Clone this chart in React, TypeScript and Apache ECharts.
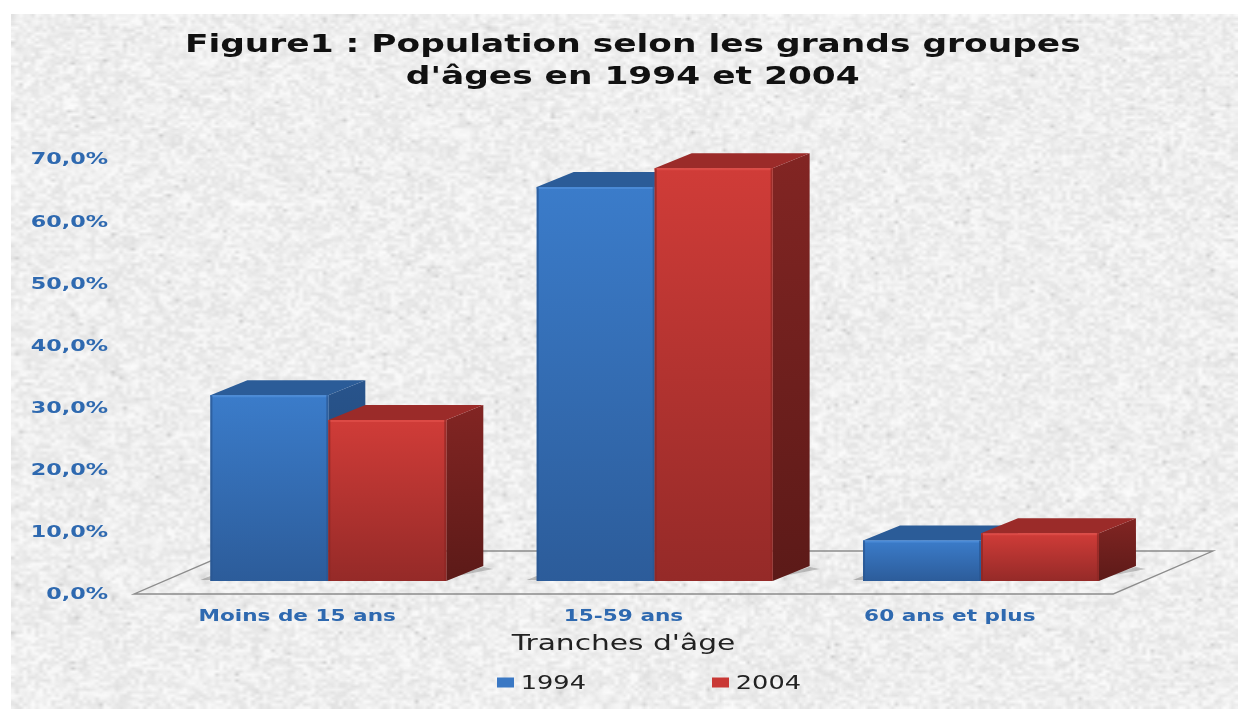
import React, { useEffect, useRef } from "react";
import * as echarts from "echarts";

const categories = ["Moins de 15 ans", "15-59 ans", "60 ans et plus"];
const values1994 = [29.9, 63.4, 6.5];
const values2004 = [25.9, 66.4, 7.7];
const yTicks = [0, 10, 20, 30, 40, 50, 60, 70];
const titleLines = ["Figure1 : Population selon les grands groupes", "d'âges en 1994 et 2004"];
const axisName = "Tranches d'âge";

const W = 1238;
const H = 709;
const SX = 1.35; // the reference is a horizontally stretched picture
const px = (x: number) => x / SX;

const DEPTH_X = px(37);
const DEPTH_Y = 15;
const FLOOR_LIFT = 13;
const BAR_SHARE = 0.3615;
const CENTRE_SHIFT = 0.0955;

const LG = (a: string, b: string) =>
  new echarts.graphic.LinearGradient(0, 0, 0, 1, [
    { offset: 0, color: a },
    { offset: 1, color: b },
  ]);

const palette1994 = { front: ["#3b7cca", "#2c5c9a"], top: "#2b5c98", side: ["#28548c", "#1f4370"], edge: "#4a8ad6", line: "#2a5590" };
const palette2004 = { front: ["#d03c38", "#952a28"], top: "#9b2b29", side: ["#822523", "#5c1a18"], edge: "#dc4a45", line: "#8c2624" };

function barRender(pal: typeof palette1994, side: -1 | 1) {
  return (_p: any, api: any) => {
    const i = api.value(0);
    const v = api.value(1);
    const band = api.size([1, 0])[0];
    const c = api.coord([i, 0]);
    const t = api.coord([i, v]);
    const bw = band * BAR_SHARE;
    const centre = c[0] + band * CENTRE_SHIFT;
    const x0 = side < 0 ? centre - bw : centre;
    const x1 = x0 + bw;
    const yb = c[1] - FLOOR_LIFT;
    const yt = t[1] - FLOOR_LIFT;
    const dx = DEPTH_X;
    const dy = DEPTH_Y;
    return {
      type: "group",
      children: [
        {
          type: "polygon",
          shape: { points: [[x1, yt], [x1 + dx, yt - dy], [x1 + dx, yb - dy], [x1, yb]] },
          style: { fill: LG(pal.side[0], pal.side[1]) },
        },
        {
          type: "polygon",
          shape: { points: [[x0, yt], [x0 + dx, yt - dy], [x1 + dx, yt - dy], [x1, yt]] },
          style: { fill: pal.top },
        },
        {
          type: "rect",
          shape: { x: x0, y: yt, width: bw, height: yb - yt },
          style: { fill: LG(pal.front[0], pal.front[1]) },
        },
        {
          type: "rect",
          shape: { x: x0, y: yt, width: bw, height: 2 },
          style: { fill: pal.edge },
        },
        {
          type: "rect",
          shape: { x: x0, y: yt, width: 1.5, height: yb - yt },
          style: { fill: pal.line, opacity: 0.7 },
        },
        {
          type: "rect",
          shape: { x: x1 - 1.5, y: yt, width: 1.5, height: yb - yt },
          style: { fill: pal.line, opacity: 0.7 },
        },
      ],
    };
  };
}

function floorRender(p: any, api: any) {
  const i = api.value(0);
  const band = api.size([1, 0])[0];
  const c = api.coord([i, 0]);
  const bw = band * BAR_SHARE;
  const centre = c[0] + band * CENTRE_SHIFT;
  const yb = c[1] - FLOOR_LIFT;
  const children: any[] = [];
  const cs = p.coordSys;
  if (i === 0) {
    const x = cs.x;
    const y = cs.y + cs.height;
    const r = x + cs.width;
    const ox = px(100);
    const oy = 43;
    children.push({
      type: "polygon",
      shape: { points: [[x, y], [r, y], [r + ox, y - oy], [x + ox, y - oy]] },
      style: { fill: "none", stroke: "#8c8c8c", lineWidth: 1.3 },
    });
  }
  children.push(
    {
      type: "polygon",
      shape: { points: [[centre - bw - px(10), yb - 1], [centre - bw, yb - 5], [centre - bw + 4, yb - 1]] },
      style: { fill: "rgba(80,80,80,0.35)", shadowBlur: 8, shadowColor: "rgba(70,70,70,0.7)" },
    },
    {
      type: "polygon",
      shape: {
        points: [
          [centre + bw + px(4), yb - 4],
          [centre + bw + DEPTH_X, yb - DEPTH_Y + 1],
          [centre + bw + DEPTH_X + px(10), yb - DEPTH_Y + 3],
          [centre + bw + px(16), yb - 6],
        ],
      },
      style: { fill: "rgba(80,80,80,0.3)", shadowBlur: 8, shadowColor: "rgba(70,70,70,0.6)" },
    }
  );
  return { type: "group", children };
}

function paintTexture(canvas: HTMLCanvasElement) {
  const w = canvas.width;
  const h = canvas.height;
  const ctx = canvas.getContext("2d")!;
  let seed = 12345;
  const next = () => {
    seed = (seed * 1664525 + 1013904223) >>> 0;
    return seed / 4294967296;
  };
  const layer = (cw: number, ch: number, base: number, amp: number, specks: number) => {
    const small = document.createElement("canvas");
    const sw = Math.ceil(w / cw);
    const sh = Math.ceil(h / ch);
    small.width = sw;
    small.height = sh;
    const sc = small.getContext("2d")!;
    const img = sc.createImageData(sw, sh);
    for (let k = 0; k < sw * sh; k++) {
      let g = base + (next() - 0.5) * amp;
      if (next() < specks) g -= 30;
      img.data[k * 4] = g;
      img.data[k * 4 + 1] = g;
      img.data[k * 4 + 2] = g;
      img.data[k * 4 + 3] = 255;
    }
    sc.putImageData(img, 0, 0);
    return small;
  };
  ctx.imageSmoothingEnabled = true;
  ctx.drawImage(layer(4, 3, 238, 34, 0.012), 0, 0, w, h);
  ctx.globalAlpha = 0.3;
  ctx.drawImage(layer(14, 10, 240, 18, 0), 0, 0, w, h);
  ctx.globalAlpha = 1;
}

export default function App() {
  const ref = useRef<HTMLDivElement>(null);
  const texture = useRef<HTMLCanvasElement>(null);

  useEffect(() => {
    document.body.style.margin = "0";
    if (texture.current) paintTexture(texture.current);
    const chart = echarts.init(ref.current!, undefined, { renderer: "svg" });
    const blueText = "#2e69b0";
    chart.setOption({
      animation: false,
      backgroundColor: "transparent",
      title: {
        text: titleLines.join("\n"),
        left: px(626),
        top: 22,
        textAlign: "center",
        textStyle: { fontFamily: "DejaVu Sans", fontWeight: "bold", fontSize: 25.5, lineHeight: 32, color: "#111" },
      },
      grid: { left: px(134), top: 159, width: px(979), height: 435, containLabel: false },
      legend: {
        data: [
          { name: "1994", icon: "rect" },
          { name: "2004", icon: "rect" },
        ],
        left: px(497) - 5,
        top: 668,
        itemWidth: px(17),
        itemHeight: 10,
        itemGap: px(126),
        textStyle: { fontFamily: "DejaVu Sans", fontSize: 19, color: "#222" },
      },
      xAxis: {
        type: "category",
        data: categories,
        axisLine: { show: false },
        axisTick: { show: false },
        axisLabel: {
          margin: 13,
          fontFamily: "DejaVu Sans",
          fontWeight: "bold",
          fontSize: 16,
          color: blueText,
        },
        name: axisName,
        nameLocation: "middle",
        nameGap: 37,
        nameTextStyle: { fontFamily: "DejaVu Sans", fontSize: 22, color: "#222" },
      },
      yAxis: {
        type: "value",
        min: yTicks[0],
        max: yTicks[yTicks.length - 1],
        interval: yTicks[1] - yTicks[0],
        axisLine: { show: false },
        axisTick: { show: false },
        splitLine: { show: false },
        axisLabel: {
          margin: px(26),
          fontFamily: "DejaVu Sans",
          fontWeight: "bold",
          fontSize: 16.5,
          color: blueText,
          formatter: (v: number) => v.toFixed(1).replace(".", ",") + "%",
        },
      },
      series: [
        {
          type: "custom",
          name: "floor",
          silent: true,
          clip: false,
          z: 1,
          renderItem: floorRender,
          encode: { x: 0, y: 1 },
          data: categories.map((_c, i) => [i, 0]),
        },
        {
          type: "custom",
          name: "1994",
          clip: false,
          z: 2,
          itemStyle: { color: "#3a78c4" },
          renderItem: barRender(palette1994, -1),
          encode: { x: 0, y: 1 },
          data: values1994.map((v, i) => [i, v]),
        },
        {
          type: "custom",
          name: "2004",
          clip: false,
          z: 3,
          itemStyle: { color: "#c93835" },
          renderItem: barRender(palette2004, 1),
          encode: { x: 0, y: 1 },
          data: values2004.map((v, i) => [i, v]),
        },
      ],
    });
    return () => chart.dispose();
  }, []);

  return (
    <div style={{ position: "relative", width: W, height: H, overflow: "hidden", background: "#fff" }}>
      <canvas ref={texture} width={W - 11} height={H - 14} style={{ position: "absolute", left: 11, top: 14 }} />
      <div
        ref={ref}
        style={{
          position: "absolute",
          left: 0,
          top: 0,
          width: W / SX,
          height: H,
          transform: `scaleX(${SX})`,
          transformOrigin: "0 0",
          filter: "blur(0.5px)",
        }}
      />
    </div>
  );
}
